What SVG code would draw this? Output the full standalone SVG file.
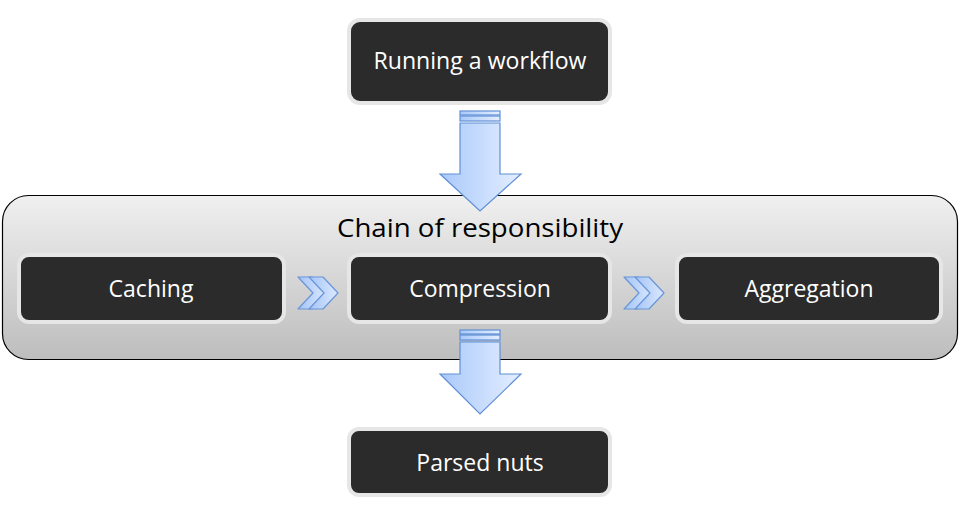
<svg xmlns="http://www.w3.org/2000/svg" width="960" height="507" viewBox="0 0 960 507">
<defs>
<linearGradient id="gc" x1="0" y1="0" x2="0" y2="1">
<stop offset="0" stop-color="#f0f0f0"/><stop offset="1" stop-color="#bdbdbd"/>
</linearGradient>
<linearGradient id="ga" x1="0" y1="0" x2="1" y2="0">
<stop offset="0" stop-color="#a9c9fa"/><stop offset="1" stop-color="#e4eeff"/>
</linearGradient>
<linearGradient id="gv" x1="0" y1="0" x2="1" y2="0">
<stop offset="0" stop-color="#a4c4f6"/><stop offset="1" stop-color="#dce9ff"/>
</linearGradient>
<style>
.box{fill:#2b2b2b;stroke:#e6e6e6;stroke-width:4}
.lbl{fill:#ffffff;font-family:"Open Sans","Liberation Sans",sans-serif;font-size:23px;text-anchor:middle}
.title{fill:#000000;font-family:"Open Sans","Liberation Sans",sans-serif;font-size:25px;text-anchor:middle}
.arr{fill:url(#ga);stroke:#5f8fd6;stroke-width:1.2}
.chev{fill:url(#gv);stroke:#6a96d8;stroke-width:1.2;stroke-linejoin:round}
</style>
</defs>
<g id="container">
<rect x="2.5" y="195.5" width="955" height="164" rx="26" ry="26" fill="url(#gc)" stroke="#000" stroke-width="1.2"/>
<text class="title" x="480" y="237" textLength="286" lengthAdjust="spacingAndGlyphs">Chain of responsibility</text>
</g>
<g id="connectors">
<g id="arrow-top">
<rect class="arr" x="460" y="111" width="40" height="4"/>
<rect class="arr" x="460" y="116" width="40" height="5"/>
<path class="arr" d="M460,123 H500 V174 H521 L480,211 L440,174 H460 Z"/>
</g>
<g id="arrow-bottom">
<rect class="arr" x="460" y="330" width="40" height="4"/>
<rect class="arr" x="460" y="335" width="40" height="5"/>
<path class="arr" d="M460,342 H500 V374 H521 L480,414 L440,374 H460 Z"/>
</g>
<g id="chevron-1">
<path class="chev" d="M298,277 H312 L327,293 L312,309 H298 L313,293 Z"/>
<path class="chev" d="M309,277 H323 L338,293 L323,309 H309 L324,293 Z"/>
</g>
<g id="chevron-2">
<path class="chev" d="M624,277 H638 L653,293 L638,309 H624 L639,293 Z"/>
<path class="chev" d="M635,277 H649 L664,293 L649,309 H635 L650,293 Z"/>
</g>
</g>
<g id="node-running">
<rect class="box" x="349" y="20" width="261" height="83" rx="11" ry="11"/>
<text class="lbl" x="480" y="69" textLength="213" lengthAdjust="spacingAndGlyphs">Running a workflow</text>
</g>
<g id="node-caching">
<rect class="box" x="19" y="255" width="265" height="67" rx="10" ry="10"/>
<text class="lbl" x="151" y="297">Caching</text>
</g>
<g id="node-compression">
<rect class="box" x="349" y="255" width="261" height="67" rx="10" ry="10"/>
<text class="lbl" x="480" y="297">Compression</text>
</g>
<g id="node-aggregation">
<rect class="box" x="677" y="255" width="264" height="67" rx="10" ry="10"/>
<text class="lbl" x="809" y="297">Aggregation</text>
</g>
<g id="node-parsed">
<rect class="box" x="349" y="429" width="261" height="66" rx="10" ry="10"/>
<text class="lbl" x="480" y="471">Parsed nuts</text>
</g>
</svg>
